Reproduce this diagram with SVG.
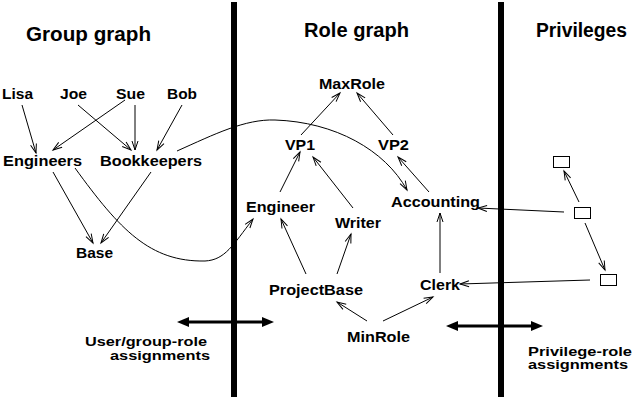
<svg xmlns="http://www.w3.org/2000/svg" width="633" height="397" viewBox="0 0 633 397">
<style>
text{font-family:"Liberation Sans",Arial,sans-serif;font-weight:bold;fill:#000}
.n{font-size:15px}
.s{font-size:13.5px}
.p{font-size:12.5px}
.t{font-size:20px}
.e{fill:none;stroke:#000;stroke-width:1;marker-end:url(#ah)}
.bar{fill:#000}
.thick{stroke:#000;stroke-width:3;fill:none}
.box{fill:#fff;stroke:#000;stroke-width:1}
</style>
<defs>
<marker id="ah" markerUnits="userSpaceOnUse" markerWidth="12" markerHeight="10" refX="10" refY="5" orient="auto" overflow="visible">
<path d="M1,2 L10,5 L1,8" fill="none" stroke="#000" stroke-width="1"/>
</marker>
</defs>
<rect class="bar" x="231" y="2" width="6" height="395"/>
<rect class="bar" x="498" y="2" width="6" height="395"/>
<g id="titles">
<text class="t" x="26" y="41" textLength="125" lengthAdjust="spacingAndGlyphs">Group graph</text>
<text class="t" x="304" y="37" textLength="105" lengthAdjust="spacingAndGlyphs">Role graph</text>
<text class="t" x="536" y="37" textLength="91" lengthAdjust="spacingAndGlyphs">Privileges</text>
</g>
<g id="connectors">
<line class="e" x1="22" y1="105" x2="36" y2="153"/>
<line class="e" x1="78" y1="105" x2="131" y2="150"/>
<line class="e" x1="125" y1="100" x2="53" y2="150"/>
<line class="e" x1="135" y1="105" x2="135" y2="150"/>
<line class="e" x1="182" y1="105" x2="157" y2="150"/>
<line class="e" x1="53" y1="172" x2="93" y2="243"/>
<line class="e" x1="151" y1="172" x2="101" y2="243"/>
<path class="e" d="M75,168 C120,230 150,262 205,261 C225,260 233,245 253,219"/>
<path class="e" d="M177,151 C215,134 245,119 275,120 C335,122 385,150 407,190"/>
<line class="e" x1="301" y1="135" x2="340" y2="93"/>
<line class="e" x1="393" y1="135" x2="357" y2="93"/>
<line class="e" x1="280" y1="192" x2="300" y2="152"/>
<line class="e" x1="353" y1="208" x2="313" y2="157"/>
<line class="e" x1="429" y1="192" x2="398" y2="157"/>
<line class="e" x1="306" y1="274" x2="281" y2="219"/>
<line class="e" x1="337" y1="274" x2="351" y2="234"/>
<line class="e" x1="440" y1="273" x2="440" y2="213"/>
<line class="e" x1="367" y1="321" x2="337" y2="302"/>
<line class="e" x1="383" y1="321" x2="433" y2="297"/>
<line class="e" x1="579" y1="202" x2="564" y2="171"/>
<line class="e" x1="585" y1="223" x2="605" y2="270"/>
<line class="e" x1="564" y1="212" x2="478" y2="208"/>
<line class="e" x1="590" y1="280" x2="460" y2="284"/>
<g id="assign-left">
<line class="thick" x1="187" y1="322" x2="264" y2="322"/>
<polygon points="177,322 189,317 189,327" fill="#000"/>
<polygon points="274,322 262,317 262,327" fill="#000"/>
</g>
<g id="assign-right">
<line class="thick" x1="456" y1="326" x2="533" y2="326"/>
<polygon points="446,326 458,321 458,331" fill="#000"/>
<polygon points="543,326 531,321 531,331" fill="#000"/>
</g>
</g>
<g id="Lisa"><text class="n" x="2" y="99" textLength="31" lengthAdjust="spacingAndGlyphs">Lisa</text></g>
<g id="Joe"><text class="n" x="60" y="99" textLength="27" lengthAdjust="spacingAndGlyphs">Joe</text></g>
<g id="Sue"><text class="n" x="116" y="99" textLength="29" lengthAdjust="spacingAndGlyphs">Sue</text></g>
<g id="Bob"><text class="n" x="167" y="99" textLength="30" lengthAdjust="spacingAndGlyphs">Bob</text></g>
<g id="Engineers"><text class="n" x="3" y="166" textLength="79" lengthAdjust="spacingAndGlyphs">Engineers</text></g>
<g id="Bookkeepers"><text class="n" x="100" y="166" textLength="102" lengthAdjust="spacingAndGlyphs">Bookkeepers</text></g>
<g id="Base"><text class="n" x="76" y="258" textLength="37" lengthAdjust="spacingAndGlyphs">Base</text></g>
<g id="MaxRole"><text class="n" x="319" y="89" textLength="66" lengthAdjust="spacingAndGlyphs">MaxRole</text></g>
<g id="VP1"><text class="n" x="285" y="150" textLength="30" lengthAdjust="spacingAndGlyphs">VP1</text></g>
<g id="VP2"><text class="n" x="378" y="150" textLength="31" lengthAdjust="spacingAndGlyphs">VP2</text></g>
<g id="Engineer"><text class="n" x="246" y="212" textLength="69" lengthAdjust="spacingAndGlyphs">Engineer</text></g>
<g id="Accounting"><text class="n" x="391" y="207" textLength="89" lengthAdjust="spacingAndGlyphs">Accounting</text></g>
<g id="Writer"><text class="n" x="335" y="228" textLength="46" lengthAdjust="spacingAndGlyphs">Writer</text></g>
<g id="ProjectBase"><text class="n" x="269" y="295" textLength="94" lengthAdjust="spacingAndGlyphs">ProjectBase</text></g>
<g id="Clerk"><text class="n" x="420" y="290" textLength="40" lengthAdjust="spacingAndGlyphs">Clerk</text></g>
<g id="MinRole"><text class="n" x="347" y="342" textLength="63" lengthAdjust="spacingAndGlyphs">MinRole</text></g>
<g id="priv1"><rect class="box" x="553.5" y="156.5" width="16" height="11"/></g>
<g id="priv2"><rect class="box" x="574.5" y="207.5" width="16" height="11"/></g>
<g id="priv3"><rect class="box" x="600.5" y="274.5" width="16" height="11"/></g>
<g id="label-user-group">
<text class="s" x="85" y="346" textLength="122" lengthAdjust="spacingAndGlyphs">User/group-role</text>
<text class="s" x="110" y="360" textLength="100" lengthAdjust="spacingAndGlyphs">assignments</text>
</g>
<g id="label-privilege">
<text class="p" x="528" y="356" textLength="104" lengthAdjust="spacingAndGlyphs">Privilege-role</text>
<text class="p" x="528" y="369" textLength="100" lengthAdjust="spacingAndGlyphs">assignments</text>
</g>
</svg>
